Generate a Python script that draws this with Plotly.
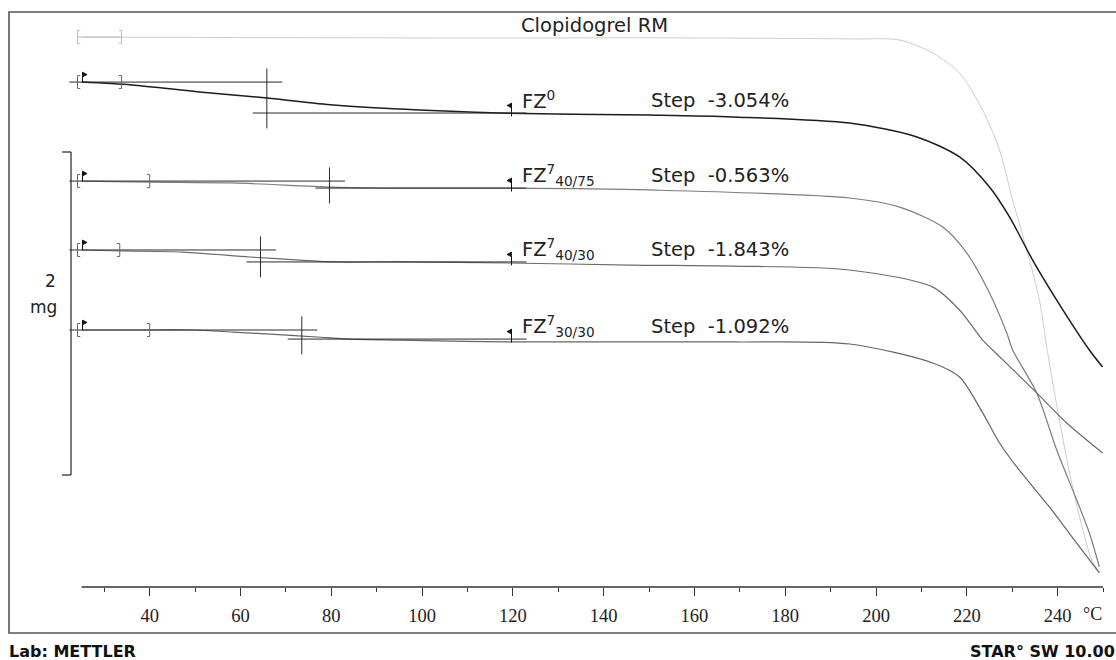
import plotly.graph_objects as go

# ---- curves: temperature (°C) vs mass (mg, as plotted with offsets) ----
rm_T = [25, 100, 160, 195, 205.2, 212.5, 218.4, 223.5, 227.2, 230.1, 233.2, 236.0,
        237.6, 240.0, 242.5, 245.0, 247.5, 249.2]
rm_mg = [3.216, 3.211, 3.211, 3.205, 3.199, 3.123, 3.006, 2.789, 2.556, 2.263, 1.971, 1.678,
         1.404, 1.035, 0.684, 0.392, 0.158, 0.088]

fz0_T = [25, 36, 51, 65.8, 80.5, 95, 117, 150, 168.4, 194.2, 209.0, 218.4, 225.0, 229.4,
         234.5, 239.8, 247.0, 249.9]
fz0_mg = [2.953, 2.936, 2.895, 2.860, 2.819, 2.795, 2.772, 2.760, 2.749, 2.713, 2.632, 2.515,
          2.339, 2.164, 1.912, 1.678, 1.386, 1.287]

fz4075_T = [25, 40, 58.3, 80, 95, 117, 150, 194.2, 205.2, 214.7, 220.0, 225.0, 228.8, 230.1,
            235.4, 239.8, 244.2, 247.0, 249.2]
fz4075_mg = [2.374, 2.368, 2.363, 2.339, 2.333, 2.333, 2.322, 2.275, 2.222, 2.105, 1.953, 1.719,
             1.485, 1.386, 1.135, 0.801, 0.509, 0.316, 0.117]

fz4030_T = [25, 33.4, 47.3, 62, 73, 80.5, 95, 119, 146, 168.4, 194.2, 212.5, 218.4, 223.5,
            225.7, 235.4, 242.0, 249.9]
fz4030_mg = [1.971, 1.965, 1.959, 1.930, 1.912, 1.901, 1.901, 1.895, 1.883, 1.877, 1.854, 1.754,
             1.620, 1.444, 1.386, 1.135, 0.959, 0.784]

fz3030_T = [25, 40, 49.5, 58.3, 69.3, 76.8, 84, 95, 119, 168.4, 194.2, 212.5, 218.4, 223.5,
            227.2, 231.0, 238.2, 244.2, 249.2]
fz3030_mg = [1.503, 1.503, 1.503, 1.491, 1.474, 1.462, 1.450, 1.444, 1.433, 1.433, 1.421, 1.310,
             1.228, 1.018, 0.842, 0.702, 0.468, 0.257, 0.082]

# ---- step evaluations ----
step_names = ["FZ<sup>0</sup>", "FZ<sup>7</sup><sub>40/75</sub>",
              "FZ<sup>7</sup><sub>40/30</sub>", "FZ<sup>7</sup><sub>30/30</sub>"]
step_values = ["-3.054%", "-0.563%", "-1.843%", "-1.092%"]
step_mid_T = [65.8, 79.6, 64.4, 73.5]
step_upper_mg = [2.953, 2.374, 1.971, 1.503]
step_lower_mg = [2.772, 2.333, 1.901, 1.450]
left_start_T = 24.1
left_limit_T = [33.8, 40.0, 33.4, 40.0]
right_limit_T = 119.7
start_T = 25.2

x_ticks = [40, 60, 80, 100, 120, 140, 160, 180, 200, 220, 240]
x_minor = [30, 50, 70, 90, 110, 130, 150, 170, 190, 210, 230, 250]

# ---- page geometry ----
W, H = 1116, 660
ML, MR, MT, MB = 68, 13, 20, 73


def px_x(px):
    return (px - ML) / (W - ML - MR)


def px_y(py):
    return (H - MB - py) / (H - MT - MB)


fig = go.Figure()

curves = [
    (rm_T, rm_mg, "#cdcdcd", 1.0),
    (fz0_T, fz0_mg, "#1c1c1c", 1.5),
    (fz4075_T, fz4075_mg, "#7c7c7c", 1.2),
    (fz4030_T, fz4030_mg, "#6c6c6c", 1.2),
    (fz3030_T, fz3030_mg, "#666666", 1.2),
]
for xs, ys, col, w in curves:
    fig.add_trace(go.Scatter(x=xs, y=ys, mode="lines", line=dict(color=col, width=w, shape="spline", smoothing=0.8),
                             hoverinfo="skip", showlegend=False))

shapes = []


def line(x0, y0, x1, y1, color="#2a2a2a", width=1.0, xref="x", yref="y"):
    shapes.append(dict(type="line", x0=x0, y0=y0, x1=x1, y1=y1, xref=xref, yref=yref,
                       line=dict(color=color, width=width)))


def bracket(x, y, side, color):
    h, s = 0.038, 0.6 * side
    shapes.append(dict(type="path", xref="x", yref="y",
                       path=f"M {x + s},{y - h} L {x},{y - h} L {x},{y + h} L {x + s},{y + h}",
                       line=dict(color=color, width=1.0)))


def flag(x, y, direction):
    top = y + 0.058
    line(x, y - (0.02 if direction < 0 else 0), x, top, "#111", 1.0)
    d = 1.0 * direction
    shapes.append(dict(type="path", xref="x", yref="y",
                       path=f"M {x},{top} L {x + d},{top - 0.014} L {x},{top - 0.028} Z",
                       fillcolor="#111", line=dict(color="#111", width=0.8)))


# light reference curve bracket
bracket(left_start_T, rm_mg[0], 1, "#bbbbbb")
bracket(33.8, rm_mg[0], -1, "#bbbbbb")
line(left_start_T, rm_mg[0], 33.8, rm_mg[0], "#bbbbbb", 1.0)

for i in range(4):
    up, lo, mid = step_upper_mg[i], step_lower_mg[i], step_mid_T[i]
    # tangents
    line(22.3, up, mid + 3.4, up)
    line(mid - 3.1, lo, 123.0, lo)
    # cross
    line(mid, up + 0.08, mid, lo - 0.09)
    # evaluation limits
    bracket(left_start_T, up, 1, "#666")
    bracket(left_limit_T[i], up, -1, "#666")
    flag(start_T, up, 1)
    flag(right_limit_T, lo, -1)

# 2 mg scale bar
line(px_x(71), 2.544, px_x(71), 0.655, "#333", 1.3, xref="paper")
line(px_x(62), 2.544, px_x(71), 2.544, "#333", 1.3, xref="paper")
line(px_x(62), 0.655, px_x(71), 0.655, "#333", 1.3, xref="paper")

# axis line
line(25, 0, 250, 0, "#333", 1.5, yref="paper")

# outer frame
shapes.append(dict(type="rect", xref="paper", yref="paper",
                   x0=px_x(9), x1=px_x(1130), y0=px_y(633), y1=px_y(12),
                   line=dict(color="#555", width=1.6)))

annotations = []
txt_font = dict(family="DejaVu Sans", size=19.5, color="#222")
annotations.append(dict(x=138.0, y=3.281, text="Clopidogrel RM", showarrow=False,
                        xanchor="center", yanchor="middle", font=txt_font))
for i in range(4):
    annotations.append(dict(x=121.5, y=step_lower_mg[i] + 0.075, text=step_names[i], showarrow=False,
                            xanchor="left", yanchor="middle", font=txt_font))
    annotations.append(dict(x=149.9, y=step_lower_mg[i] + 0.075, text="Step  " + step_values[i],
                            showarrow=False, xanchor="left", yanchor="middle", font=txt_font))

annotations += [
    dict(xref="paper", yref="paper", x=px_x(50), y=px_y(281), text="2", showarrow=False,
         xanchor="center", yanchor="middle", font=dict(family="DejaVu Sans", size=17, color="#222")),
    dict(xref="paper", yref="paper", x=px_x(43), y=px_y(307), text="mg", showarrow=False,
         xanchor="center", yanchor="middle", font=dict(family="DejaVu Sans", size=17, color="#222")),
    dict(xref="x", yref="paper", x=247.7, y=px_y(614), text="°C", showarrow=False,
         xanchor="center", yanchor="middle", font=dict(family="Liberation Serif", size=18, color="#222")),
    dict(xref="paper", yref="paper", x=px_x(7), y=px_y(651), text="<b>Lab: METTLER</b>",
         showarrow=False, xanchor="left", yanchor="middle",
         font=dict(family="DejaVu Sans", size=16, color="#111")),
    dict(xref="paper", yref="paper", x=px_x(968), y=px_y(651), text="<b>STAR° SW 10.00</b>",
         showarrow=False, xanchor="left", yanchor="middle",
         font=dict(family="DejaVu Sans", size=16, color="#111")),
]

fig.update_layout(
    width=W, height=H,
    margin=dict(l=ML, r=MR, t=MT, b=MB),
    paper_bgcolor="white", plot_bgcolor="white",
    showlegend=False,
    shapes=shapes,
    annotations=annotations,
    xaxis=dict(range=[22, 250], tickmode="array", tickvals=x_ticks,
               ticks="outside", ticklen=8, tickwidth=1.3, tickcolor="#333",
               minor=dict(tickmode="array", tickvals=x_minor,
                          ticks="outside", ticklen=4, tickwidth=1.2, tickcolor="#333"),
               showline=False, showgrid=False, zeroline=False,
               tickfont=dict(family="Liberation Serif", size=18.5, color="#222"),
               ticklabelstandoff=4),
    yaxis=dict(range=[0, 3.316], visible=False),
)

fig.write_html("out.html", config={"displayModeBar": False},
               post_script="document.body.style.margin='0';document.body.style.overflow='hidden';")
